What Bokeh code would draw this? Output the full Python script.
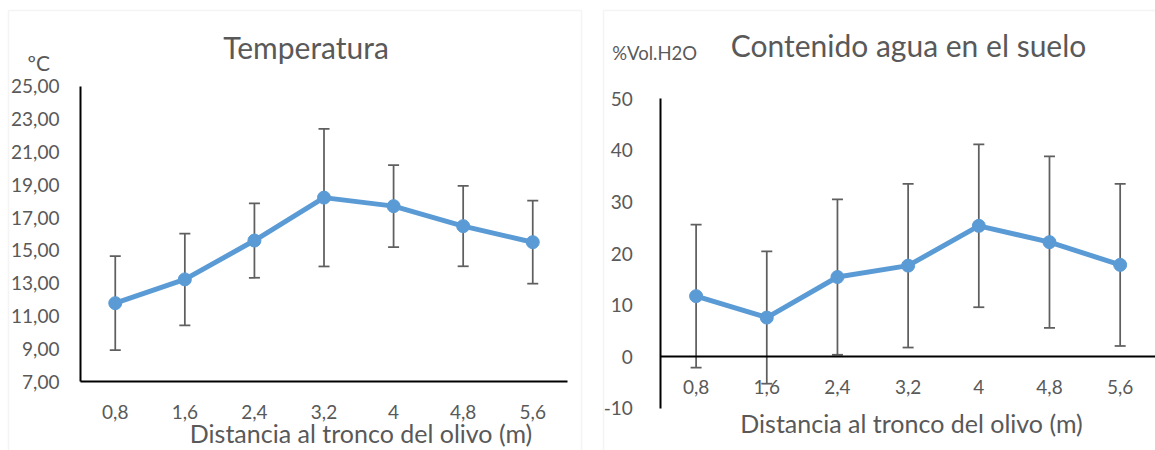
from bokeh.plotting import figure
from bokeh.models import ColumnDataSource, Label, BoxAnnotation, FixedTicker, Range1d
from bokeh.layouts import row
from bokeh.embed import file_html
from bokeh.resources import INLINE

# ---- data ----
distances = [0.8, 1.6, 2.4, 3.2, 4.0, 4.8, 5.6]
distance_labels = ["0,8", "1,6", "2,4", "3,2", "4", "4,8", "5,6"]

temp_mean = [11.78, 13.23, 15.60, 18.22, 17.70, 16.48, 15.50]
temp_err = [2.87, 2.80, 2.27, 4.20, 2.50, 2.45, 2.53]

water_mean = [11.75, 7.60, 15.45, 17.65, 25.35, 22.20, 17.80]
water_err = [13.85, 12.80, 15.05, 15.85, 15.75, 16.60, 15.70]

temp_ticks = [7, 9, 11, 13, 15, 17, 19, 21, 23, 25]
temp_tick_labels = ["7,00", "9,00", "11,00", "13,00", "15,00", "17,00", "19,00", "21,00", "23,00", "25,00"]
water_ticks = [-10, 0, 10, 20, 30, 40, 50]
water_tick_labels = ["-10", "0", "10", "20", "30", "40", "50"]

temp_title = "Temperatura"
water_title = "Contenido agua en el suelo"
temp_unit = "ºC"
water_unit = "%Vol.H2O"
x_title = "Distancia al tronco del olivo (m)"

FONT = "Lato"
GREY = "#595959"
BLUE = "#5b9bd5"
ERR = "#5f5f5f"
H = 450


def make_chart(means, errs, ticks, tick_labels, title, unit, width,
               x_range, y_range, x_axis_at, pos):
    src = ColumnDataSource(dict(
        x=distances, y=means,
        lo=[m - e for m, e in zip(means, errs)],
        hi=[m + e for m, e in zip(means, errs)],
    ))
    p = figure(x_range=Range1d(*x_range), y_range=Range1d(*y_range),
               width=width, height=H, output_backend="svg", toolbar_location=None,
               min_border=0, min_border_left=0, min_border_right=0,
               min_border_top=0, min_border_bottom=0)
    p.outline_line_color = None
    p.background_fill_color = "white"
    p.border_fill_color = "white"
    p.xgrid.grid_line_color = None
    p.ygrid.grid_line_color = None

    # frame border of the chart area
    p.add_layout(BoxAnnotation(left=pos["box"][0], right=pos["box"][1],
                               top=pos["box"][2], bottom=pos["box"][3],
                               left_units="screen", right_units="screen",
                               top_units="screen", bottom_units="screen",
                               fill_alpha=0, line_color="#d9d9d9", line_width=1.5,
                               level="underlay"))

    # error bars
    p.segment(x0="x", y0="lo", x1="x", y1="hi", source=src,
              line_color=ERR, line_width=1.75)
    p.scatter(x="x", y="hi", source=src, marker="dash", size=11,
              line_color=ERR, line_width=1.75)
    p.scatter(x="x", y="lo", source=src, marker="dash", size=11,
              line_color=ERR, line_width=1.75)
    # series
    p.line(x="x", y="y", source=src, line_color=BLUE, line_width=5)
    p.scatter(x="x", y="y", source=src, size=13, fill_color=BLUE,
              line_color=BLUE)

    for ax in (p.xaxis, p.yaxis):
        ax.axis_line_color = "black"
        ax.axis_line_width = 2
        ax.major_tick_line_color = None
        ax.minor_tick_line_color = None
        ax.major_label_text_color = GREY
        ax.major_label_text_font = FONT
        ax.major_label_text_font_size = "19px"
    p.yaxis.ticker = FixedTicker(ticks=ticks)
    p.yaxis.major_label_overrides = {t: l for t, l in zip(ticks, tick_labels)}
    p.yaxis.bounds = (ticks[0], ticks[-1])
    x_lo = distances[0] - (distances[1] - distances[0]) / 2
    x_hi = distances[-1] + (distances[1] - distances[0]) / 2
    p.yaxis.fixed_location = x_lo
    p.yaxis.major_label_standoff = pos["ystand"]
    p.xaxis.ticker = FixedTicker(ticks=distances)
    p.xaxis.major_label_overrides = {d: l for d, l in zip(distances, distance_labels)}
    p.xaxis.bounds = (x_lo, x_hi)
    p.xaxis.fixed_location = x_axis_at
    p.xaxis.major_label_standoff = pos["xstand"]

    p.add_layout(Label(x=pos["title"][0], y=pos["title"][1], x_units="screen", y_units="screen",
                       text=title, text_font=FONT, text_font_size="30px",
                       text_color=GREY, text_align="center", text_baseline="alphabetic"))
    p.add_layout(Label(x=pos["unit"][0], y=pos["unit"][1], x_units="screen", y_units="screen",
                       text=unit, text_font=FONT, text_font_size=pos["unitsize"],
                       text_color=GREY, text_align="left", text_baseline="alphabetic"))
    p.add_layout(Label(x=pos["xt"][0], y=pos["xt"][1], x_units="screen", y_units="screen",
                       text=x_title, text_font=FONT, text_font_size="25px",
                       text_color=GREY, text_align="center", text_baseline="alphabetic"))
    return p


p1 = make_chart(temp_mean, temp_err, temp_ticks, temp_tick_labels, temp_title, temp_unit,
                592, (-0.5195, 6.287), (2.790, 30.247), 7,
                dict(title=(305.5, 404), unit=(27, 388), unitsize="21px",
                     xt=(360.5, 17.5), ystand=15, xstand=17,
                     box=(8, 581, 440, -10)))
p2 = make_chart(water_mean, water_err, water_ticks, water_tick_labels, water_title, water_unit,
                563, (-0.3727, 6.0), (-18.13, 68.97), 0,
                dict(title=(316, 405.5), unit=(19.7, 397.5), unitsize="18.5px",
                     xt=(319, 27.3), ystand=22, xstand=17,
                     box=(11, 600, 440, -10)))

layout = row(p1, p2, spacing=0)
open("out.html", "w").write(file_html(layout, INLINE))
